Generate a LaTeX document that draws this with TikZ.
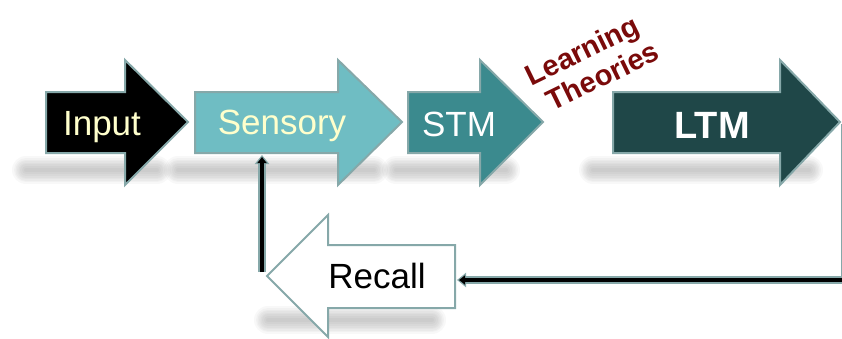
\documentclass[tikz,border=0pt]{standalone}
\usepackage{fontspec}
\setmainfont{Liberation Sans}
\usetikzlibrary{arrows.meta}

\definecolor{edgegray}{HTML}{86A8A9}
\definecolor{sensfill}{HTML}{6FBDC3}
\definecolor{stmfill}{HTML}{3B8A8E}
\definecolor{ltmfill}{HTML}{1F4748}
\definecolor{paleyellow}{HTML}{FFFFCC}
\definecolor{theorycol}{HTML}{7A0A0A}

% right-pointing block arrow: body from x=#1 to #2, tip at #3
\newcommand\rightblock[3]{(#1,92) -- (#2,92) -- (#2,60) -- (#3,122) -- (#2,185) -- (#2,153) -- (#1,153) -- cycle}
% soft ground shadow: stacked translucent round-capped strokes along a spine
\newcommand\softbar[3]{%
  \foreach \w in {4,8,12,15,18,21,24,28}{%
    \draw[black, line width=\w pt, line cap=round, draw opacity=0.026] (#1,#3) -- (#2,#3);}}

\tikzset{
  blockarrow/.style={draw=edgegray, line width=2pt, line join=miter},
  lbl/.style={inner sep=0pt, font=\fontsize{35}{40}\selectfont, anchor=base},
  theory/.style={inner sep=0pt, font=\fontsize{29}{32}\selectfont\bfseries, text=theorycol},
  linkouter/.style={draw=edgegray, line width=8pt, line join=miter},
  linkinner/.style={draw=black, line width=4pt, line join=miter}
}

\begin{document}
\begin{tikzpicture}[x=1pt,y=-1pt]
\useasboundingbox (0,0) rectangle (842,338);
\clip (0,0) rectangle (842,338);

% ground shadows
\softbar{26}{157}{170}
\softbar{178}{374}{170}
\softbar{396}{506}{170}
\softbar{593}{809}{170}
\softbar{268}{432}{320}

% process arrows
\filldraw[blockarrow, fill=black]    \rightblock{46}{125}{188};
\filldraw[blockarrow, fill=sensfill] \rightblock{195}{338}{402};
\filldraw[blockarrow, fill=stmfill]  \rightblock{408}{480}{543};
\filldraw[blockarrow, fill=ltmfill]  \rightblock{613}{780}{840};
\filldraw[blockarrow, fill=white]
  (267,276) -- (328,215) -- (328,245) -- (455,245) -- (455,308) -- (328,308) -- (328,337) -- cycle;

% labels
\node[lbl, text=paleyellow] (input)   at (102,135) {Input};
\node[lbl, text=paleyellow] (sensory) at (282,134) {Sensory};
\node[lbl, text=white]      (stm)     at (459,136) {STM};
\node[lbl, text=white, font=\fontsize{38}{40}\selectfont\bfseries] (ltm) at (712,138) {LTM};
\node[lbl, text=black]      (recall)  at (377,288) {Recall};
\node[theory, rotate=26, align=left] (theory) at (592,63) {Learning\\\hspace*{8pt}Theories};

% connector end points
\coordinate (sensbase) at (262,155);
\coordinate (recalltip) at (262,272);
\coordinate (ltmtip) at (845,124);
\coordinate (recallend) at (457,280);

% recall feeds back into sensory memory
\draw[linkouter, -{Triangle[length=9pt,width=14pt]}] (recalltip) -- (sensbase);
\draw[linkinner, shorten >=2pt, -{Triangle[length=6pt,width=9pt]}] (recalltip) -- (sensbase);

% long-term memory returns to recall
\draw[linkouter, -{Triangle[length=9pt,width=14pt]}] (ltmtip) |- (recallend);
\draw[linkinner, shorten >=2pt, -{Triangle[length=6pt,width=9pt]}] (ltmtip) |- (recallend);
\end{tikzpicture}
\end{document}
